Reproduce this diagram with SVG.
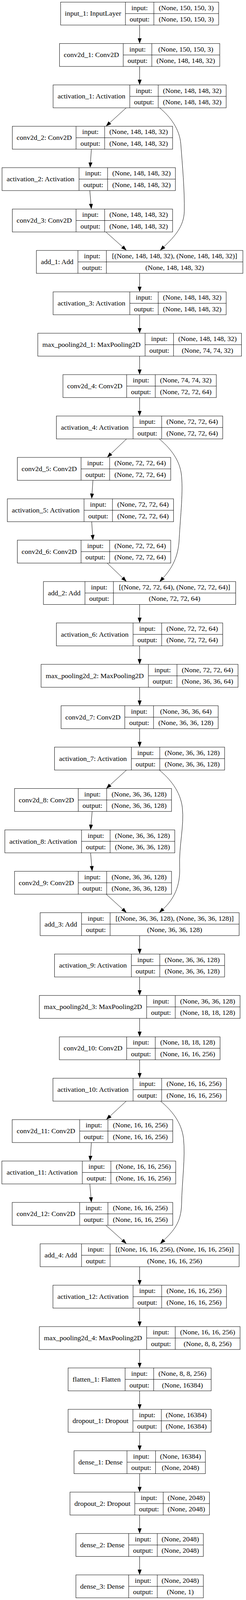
<svg xmlns="http://www.w3.org/2000/svg" width="630" height="4279" viewBox="0 0 630 4279" preserveAspectRatio="none">
<style>
svg:root{height:100vh;max-height:4279px}
.n rect{fill:#fff;stroke:#000;stroke-width:1}
.n path{fill:none;stroke:#000;stroke-width:1}
.n text{font-family:"Liberation Serif","Times New Roman",serif;font-size:18px;text-anchor:middle;fill:#000}
#edges path{fill:none;stroke:#000;stroke-width:1;marker-end:url(#ah)}
</style>
<defs>
<marker id="ah" markerUnits="userSpaceOnUse" markerWidth="14" markerHeight="10" refX="0" refY="5" orient="auto" viewBox="0 0 14 10"><path d="M0,0L14,5L0,10z" fill="#000"/></marker>
</defs>
<rect width="630" height="4279" fill="#fff"/>
<g id="edges">
<path d="M357.6,67V102.4"/>
<path d="M357.6,177.7V213.1"/>
<path d="M357.6,731.1V766.5"/>
<path d="M357.6,841.8V877.2"/>
<path d="M357.6,952.5V987.9"/>
<path d="M357.6,1063.2V1098.6"/>
<path d="M357.6,1616.6V1652"/>
<path d="M357.6,1727.3V1762.7"/>
<path d="M357.6,1838V1873.4"/>
<path d="M357.6,1948.7V1984.1"/>
<path d="M357.6,2502.2V2537.5"/>
<path d="M357.6,2612.8V2648.2"/>
<path d="M357.6,2723.5V2758.9"/>
<path d="M357.6,2834.2V2869.6"/>
<path d="M357.6,3387.7V3423.1"/>
<path d="M357.6,3498.4V3533.8"/>
<path d="M357.6,3609.1V3644.4"/>
<path d="M357.6,3719.7V3755.1"/>
<path d="M357.6,3830.4V3865.8"/>
<path d="M357.6,3941.1V3976.5"/>
<path d="M357.6,4051.8V4087.2"/>
<path d="M357.6,4162.5V4197.9"/>
<path d="M323.2,288.4L281.4,328.1"/>
<path d="M234,399L231.7,434.4"/>
<path d="M230,509.7L232.9,545.2"/>
<path d="M271.2,620.4L313.8,660.2"/>
<path d="M408.8,288.4C436,312 460,345 463,385C467,440 473,510 472,565C471,605 448,632 419.9,659.9"/>
<path d="M324,1173.9L284.3,1213.4"/>
<path d="M238,1284.6L235.7,1319.9"/>
<path d="M234.8,1395.3L237.1,1430.6"/>
<path d="M274.4,1505.9L314.1,1545.4"/>
<path d="M408,1173.9C432,1195 458,1225 464,1265C470,1310 462,1380 459,1440C457,1490 440,1520 417.9,1545.4"/>
<path d="M324,2059.4L282.2,2099.2"/>
<path d="M236,2170.1L233.1,2205.5"/>
<path d="M232,2280.8L234.9,2316.2"/>
<path d="M272,2391.5L313.9,2431.3"/>
<path d="M408,2059.4C434,2082 462,2115 467,2160C472,2210 458,2260 460,2320C462,2370 445,2405 417.9,2431"/>
<path d="M323.2,2944.9L282.1,2984.6"/>
<path d="M234,3055.6L231.7,3091"/>
<path d="M230,3166.3L232.9,3201.8"/>
<path d="M271.2,3277L313.8,3316.8"/>
<path d="M411.2,2944.9C438,2968 465,3000 470,3045C475,3095 466,3160 465,3220C464,3270 444,3292 419.9,3316.5"/>
</g>
<g id="input_1" class="n" transform="translate(0,5.7)"><rect x="155.2" y="0" width="404.8" height="61.3"/><path d="M321.2,0V61.3M394,0V61.3M321.2,30.65H560"/><text x="238.2" y="36.6">input_1: InputLayer</text><text x="357.6" y="21.1">input:</text><text x="357.6" y="51.8">output:</text><text x="477" y="21.1">(None, 150, 150, 3)</text><text x="477" y="51.8">(None, 150, 150, 3)</text></g>
<g id="conv2d_1" class="n" transform="translate(0,116.4)"><rect x="152.4" y="0" width="410.4" height="61.3"/><path d="M315.6,0V61.3M388.8,0V61.3M315.6,30.65H562.8"/><text x="234" y="36.6">conv2d_1: Conv2D</text><text x="352.2" y="21.1">input:</text><text x="352.2" y="51.8">output:</text><text x="475.8" y="21.1">(None, 150, 150, 3)</text><text x="475.8" y="51.8">(None, 148, 148, 32)</text></g>
<g id="activation_1" class="n" transform="translate(0,227.05)"><rect x="136" y="0" width="443.2" height="61.3"/><path d="M332.4,0V61.3M405.2,0V61.3M332.4,30.65H579.2"/><text x="234.2" y="36.6">activation_1: Activation</text><text x="368.8" y="21.1">input:</text><text x="368.8" y="51.8">output:</text><text x="492.2" y="21.1">(None, 148, 148, 32)</text><text x="492.2" y="51.8">(None, 148, 148, 32)</text></g>
<g id="conv2d_2" class="n" transform="translate(0,337.7)"><rect x="31.6" y="0" width="410.4" height="61.3"/><path d="M194.8,0V61.3M268,0V61.3M194.8,30.65H442"/><text x="113.2" y="36.6">conv2d_2: Conv2D</text><text x="231.4" y="21.1">input:</text><text x="231.4" y="51.8">output:</text><text x="355" y="21.1">(None, 148, 148, 32)</text><text x="355" y="51.8">(None, 148, 148, 32)</text></g>
<g id="activation_2" class="n" transform="translate(0,448.4)"><rect x="5.2" y="0" width="444" height="61.3"/><path d="M202.4,0V61.3M275.6,0V61.3M202.4,30.65H449.2"/><text x="103.8" y="36.6">activation_2: Activation</text><text x="239" y="21.1">input:</text><text x="239" y="51.8">output:</text><text x="362.4" y="21.1">(None, 148, 148, 32)</text><text x="362.4" y="51.8">(None, 148, 148, 32)</text></g>
<g id="conv2d_3" class="n" transform="translate(0,559.1)"><rect x="31.6" y="0" width="410.4" height="61.3"/><path d="M194.8,0V61.3M268,0V61.3M194.8,30.65H442"/><text x="113.2" y="36.6">conv2d_3: Conv2D</text><text x="231.4" y="21.1">input:</text><text x="231.4" y="51.8">output:</text><text x="355" y="21.1">(None, 148, 148, 32)</text><text x="355" y="51.8">(None, 148, 148, 32)</text></g>
<g id="add_1" class="n" transform="translate(0,669.8)"><rect x="93.2" y="0" width="528.8" height="61.3"/><path d="M199.6,0V61.3M272.4,0V61.3M199.6,30.65H622"/><text x="146.4" y="36.6">add_1: Add</text><text x="236" y="21.1">input:</text><text x="236" y="51.8">output:</text><text x="447.2" y="21.1">[(None, 148, 148, 32), (None, 148, 148, 32)]</text><text x="447.2" y="51.8">(None, 148, 148, 32)</text></g>
<g id="activation_3" class="n" transform="translate(0,780.5)"><rect x="136" y="0" width="443.2" height="61.3"/><path d="M332.4,0V61.3M405.2,0V61.3M332.4,30.65H579.2"/><text x="234.2" y="36.6">activation_3: Activation</text><text x="368.8" y="21.1">input:</text><text x="368.8" y="51.8">output:</text><text x="492.2" y="21.1">(None, 148, 148, 32)</text><text x="492.2" y="51.8">(None, 148, 148, 32)</text></g>
<g id="max_pooling2d_1" class="n" transform="translate(0,891.2)"><rect x="96.8" y="0" width="521.6" height="61.3"/><path d="M371.6,0V61.3M444.4,0V61.3M371.6,30.65H618.4"/><text x="234.2" y="36.6">max_pooling2d_1: MaxPooling2D</text><text x="408" y="21.1">input:</text><text x="408" y="51.8">output:</text><text x="531.4" y="21.1">(None, 148, 148, 32)</text><text x="531.4" y="51.8">(None, 74, 74, 32)</text></g>
<g id="conv2d_4" class="n" transform="translate(0,1001.9)"><rect x="161.2" y="0" width="392.8" height="61.3"/><path d="M324.4,0V61.3M397.6,0V61.3M324.4,30.65H554"/><text x="242.8" y="36.6">conv2d_4: Conv2D</text><text x="361" y="21.1">input:</text><text x="361" y="51.8">output:</text><text x="475.8" y="21.1">(None, 74, 74, 32)</text><text x="475.8" y="51.8">(None, 72, 72, 64)</text></g>
<g id="activation_4" class="n" transform="translate(0,1112.6)"><rect x="144.4" y="0" width="426" height="61.3"/><path d="M340.8,0V61.3M414,0V61.3M340.8,30.65H570.4"/><text x="242.6" y="36.6">activation_4: Activation</text><text x="377.4" y="21.1">input:</text><text x="377.4" y="51.8">output:</text><text x="492.2" y="21.1">(None, 72, 72, 64)</text><text x="492.2" y="51.8">(None, 72, 72, 64)</text></g>
<g id="conv2d_5" class="n" transform="translate(0,1223.3)"><rect x="44.4" y="0" width="392.8" height="61.3"/><path d="M207.6,0V61.3M280.8,0V61.3M207.6,30.65H437.2"/><text x="126" y="36.6">conv2d_5: Conv2D</text><text x="244.2" y="21.1">input:</text><text x="244.2" y="51.8">output:</text><text x="359" y="21.1">(None, 72, 72, 64)</text><text x="359" y="51.8">(None, 72, 72, 64)</text></g>
<g id="activation_5" class="n" transform="translate(0,1334)"><rect x="18.8" y="0" width="425.6" height="61.3"/><path d="M215.2,0V61.3M288,0V61.3M215.2,30.65H444.4"/><text x="117" y="36.6">activation_5: Activation</text><text x="251.6" y="21.1">input:</text><text x="251.6" y="51.8">output:</text><text x="366.2" y="21.1">(None, 72, 72, 64)</text><text x="366.2" y="51.8">(None, 72, 72, 64)</text></g>
<g id="conv2d_6" class="n" transform="translate(0,1444.6)"><rect x="44.4" y="0" width="392.8" height="61.3"/><path d="M207.6,0V61.3M280.8,0V61.3M207.6,30.65H437.2"/><text x="126" y="36.6">conv2d_6: Conv2D</text><text x="244.2" y="21.1">input:</text><text x="244.2" y="51.8">output:</text><text x="359" y="21.1">(None, 72, 72, 64)</text><text x="359" y="51.8">(None, 72, 72, 64)</text></g>
<g id="add_2" class="n" transform="translate(0,1555.3)"><rect x="111.2" y="0" width="492.4" height="61.3"/><path d="M217.6,0V61.3M290.4,0V61.3M217.6,30.65H603.6"/><text x="164.4" y="36.6">add_2: Add</text><text x="254" y="21.1">input:</text><text x="254" y="51.8">output:</text><text x="447" y="21.1">[(None, 72, 72, 64), (None, 72, 72, 64)]</text><text x="447" y="51.8">(None, 72, 72, 64)</text></g>
<g id="activation_6" class="n" transform="translate(0,1666)"><rect x="144.4" y="0" width="426" height="61.3"/><path d="M340.8,0V61.3M414,0V61.3M340.8,30.65H570.4"/><text x="242.6" y="36.6">activation_6: Activation</text><text x="377.4" y="21.1">input:</text><text x="377.4" y="51.8">output:</text><text x="492.2" y="21.1">(None, 72, 72, 64)</text><text x="492.2" y="51.8">(None, 72, 72, 64)</text></g>
<g id="max_pooling2d_2" class="n" transform="translate(0,1776.7)"><rect x="105.2" y="0" width="504.4" height="61.3"/><path d="M380,0V61.3M453.2,0V61.3M380,30.65H609.6"/><text x="242.6" y="36.6">max_pooling2d_2: MaxPooling2D</text><text x="416.6" y="21.1">input:</text><text x="416.6" y="51.8">output:</text><text x="531.4" y="21.1">(None, 72, 72, 64)</text><text x="531.4" y="51.8">(None, 36, 36, 64)</text></g>
<g id="conv2d_7" class="n" transform="translate(0,1887.4)"><rect x="156.4" y="0" width="402.4" height="61.3"/><path d="M319.6,0V61.3M393.2,0V61.3M319.6,30.65H558.8"/><text x="238" y="36.6">conv2d_7: Conv2D</text><text x="356.4" y="21.1">input:</text><text x="356.4" y="51.8">output:</text><text x="476" y="21.1">(None, 36, 36, 64)</text><text x="476" y="51.8">(None, 36, 36, 128)</text></g>
<g id="activation_7" class="n" transform="translate(0,1998.1)"><rect x="139.6" y="0" width="435.6" height="61.3"/><path d="M336.4,0V61.3M409.2,0V61.3M336.4,30.65H575.2"/><text x="238" y="36.6">activation_7: Activation</text><text x="372.8" y="21.1">input:</text><text x="372.8" y="51.8">output:</text><text x="492.2" y="21.1">(None, 36, 36, 128)</text><text x="492.2" y="51.8">(None, 36, 36, 128)</text></g>
<g id="conv2d_8" class="n" transform="translate(0,2108.8)"><rect x="37.2" y="0" width="402" height="61.3"/><path d="M200.4,0V61.3M273.2,0V61.3M200.4,30.65H439.2"/><text x="118.8" y="36.6">conv2d_8: Conv2D</text><text x="236.8" y="21.1">input:</text><text x="236.8" y="51.8">output:</text><text x="356.2" y="21.1">(None, 36, 36, 128)</text><text x="356.2" y="51.8">(None, 36, 36, 128)</text></g>
<g id="activation_8" class="n" transform="translate(0,2219.5)"><rect x="12.4" y="0" width="435.2" height="61.3"/><path d="M208.8,0V61.3M282,0V61.3M208.8,30.65H447.6"/><text x="110.6" y="36.6">activation_8: Activation</text><text x="245.4" y="21.1">input:</text><text x="245.4" y="51.8">output:</text><text x="364.8" y="21.1">(None, 36, 36, 128)</text><text x="364.8" y="51.8">(None, 36, 36, 128)</text></g>
<g id="conv2d_9" class="n" transform="translate(0,2330.2)"><rect x="37.2" y="0" width="402" height="61.3"/><path d="M200.4,0V61.3M273.2,0V61.3M200.4,30.65H439.2"/><text x="118.8" y="36.6">conv2d_9: Conv2D</text><text x="236.8" y="21.1">input:</text><text x="236.8" y="51.8">output:</text><text x="356.2" y="21.1">(None, 36, 36, 128)</text><text x="356.2" y="51.8">(None, 36, 36, 128)</text></g>
<g id="add_3" class="n" transform="translate(0,2440.9)"><rect x="102.8" y="0" width="509.6" height="61.3"/><path d="M208.8,0V61.3M282,0V61.3M208.8,30.65H612.4"/><text x="155.8" y="36.6">add_3: Add</text><text x="245.4" y="21.1">input:</text><text x="245.4" y="51.8">output:</text><text x="447.2" y="21.1">[(None, 36, 36, 128), (None, 36, 36, 128)]</text><text x="447.2" y="51.8">(None, 36, 36, 128)</text></g>
<g id="activation_9" class="n" transform="translate(0,2551.5)"><rect x="139.6" y="0" width="435.6" height="61.3"/><path d="M336.4,0V61.3M409.2,0V61.3M336.4,30.65H575.2"/><text x="238" y="36.6">activation_9: Activation</text><text x="372.8" y="21.1">input:</text><text x="372.8" y="51.8">output:</text><text x="492.2" y="21.1">(None, 36, 36, 128)</text><text x="492.2" y="51.8">(None, 36, 36, 128)</text></g>
<g id="max_pooling2d_3" class="n" transform="translate(0,2662.2)"><rect x="100.8" y="0" width="514" height="61.3"/><path d="M375.6,0V61.3M448.8,0V61.3M375.6,30.65H614.8"/><text x="238.2" y="36.6">max_pooling2d_3: MaxPooling2D</text><text x="412.2" y="21.1">input:</text><text x="412.2" y="51.8">output:</text><text x="531.8" y="21.1">(None, 36, 36, 128)</text><text x="531.8" y="51.8">(None, 18, 18, 128)</text></g>
<g id="conv2d_10" class="n" transform="translate(0,2772.9)"><rect x="152" y="0" width="411.6" height="61.3"/><path d="M324.4,0V61.3M397.6,0V61.3M324.4,30.65H563.6"/><text x="238.2" y="36.6">conv2d_10: Conv2D</text><text x="361" y="21.1">input:</text><text x="361" y="51.8">output:</text><text x="480.6" y="21.1">(None, 18, 18, 128)</text><text x="480.6" y="51.8">(None, 16, 16, 256)</text></g>
<g id="activation_10" class="n" transform="translate(0,2883.6)"><rect x="135.6" y="0" width="444.4" height="61.3"/><path d="M340.8,0V61.3M414,0V61.3M340.8,30.65H580"/><text x="238.2" y="36.6">activation_10: Activation</text><text x="377.4" y="21.1">input:</text><text x="377.4" y="51.8">output:</text><text x="497" y="21.1">(None, 16, 16, 256)</text><text x="497" y="51.8">(None, 16, 16, 256)</text></g>
<g id="conv2d_11" class="n" transform="translate(0,2994.3)"><rect x="31.2" y="0" width="411.2" height="61.3"/><path d="M204,0V61.3M276.4,0V61.3M204,30.65H442.4"/><text x="117.6" y="36.6">conv2d_11: Conv2D</text><text x="240.2" y="21.1">input:</text><text x="240.2" y="51.8">output:</text><text x="359.4" y="21.1">(None, 16, 16, 256)</text><text x="359.4" y="51.8">(None, 16, 16, 256)</text></g>
<g id="activation_11" class="n" transform="translate(0,3105)"><rect x="4.8" y="0" width="445.2" height="61.3"/><path d="M210.8,0V61.3M284,0V61.3M210.8,30.65H450"/><text x="107.8" y="36.6">activation_11: Activation</text><text x="247.4" y="21.1">input:</text><text x="247.4" y="51.8">output:</text><text x="367" y="21.1">(None, 16, 16, 256)</text><text x="367" y="51.8">(None, 16, 16, 256)</text></g>
<g id="conv2d_12" class="n" transform="translate(0,3215.7)"><rect x="31.2" y="0" width="411.2" height="61.3"/><path d="M204,0V61.3M276.4,0V61.3M204,30.65H442.4"/><text x="117.6" y="36.6">conv2d_12: Conv2D</text><text x="240.2" y="21.1">input:</text><text x="240.2" y="51.8">output:</text><text x="359.4" y="21.1">(None, 16, 16, 256)</text><text x="359.4" y="51.8">(None, 16, 16, 256)</text></g>
<g id="add_4" class="n" transform="translate(0,3326.4)"><rect x="102.8" y="0" width="509.6" height="61.3"/><path d="M208.8,0V61.3M282,0V61.3M208.8,30.65H612.4"/><text x="155.8" y="36.6">add_4: Add</text><text x="245.4" y="21.1">input:</text><text x="245.4" y="51.8">output:</text><text x="447.2" y="21.1">[(None, 16, 16, 256), (None, 16, 16, 256)]</text><text x="447.2" y="51.8">(None, 16, 16, 256)</text></g>
<g id="activation_12" class="n" transform="translate(0,3437.1)"><rect x="135.6" y="0" width="444.4" height="61.3"/><path d="M340.8,0V61.3M414,0V61.3M340.8,30.65H580"/><text x="238.2" y="36.6">activation_12: Activation</text><text x="377.4" y="21.1">input:</text><text x="377.4" y="51.8">output:</text><text x="497" y="21.1">(None, 16, 16, 256)</text><text x="497" y="51.8">(None, 16, 16, 256)</text></g>
<g id="max_pooling2d_4" class="n" transform="translate(0,3547.8)"><rect x="100.8" y="0" width="514" height="61.3"/><path d="M375.6,0V61.3M448.8,0V61.3M375.6,30.65H614.8"/><text x="238.2" y="36.6">max_pooling2d_4: MaxPooling2D</text><text x="412.2" y="21.1">input:</text><text x="412.2" y="51.8">output:</text><text x="531.8" y="21.1">(None, 16, 16, 256)</text><text x="531.8" y="51.8">(None, 8, 8, 256)</text></g>
<g id="flatten_1" class="n" transform="translate(0,3658.4)"><rect x="174.4" y="0" width="366.4" height="61.3"/><path d="M320.4,0V61.3M393.6,0V61.3M320.4,30.65H540.8"/><text x="247.4" y="36.6">flatten_1: Flatten</text><text x="357" y="21.1">input:</text><text x="357" y="51.8">output:</text><text x="467.2" y="21.1">(None, 8, 8, 256)</text><text x="467.2" y="51.8">(None, 16384)</text></g>
<g id="dropout_1" class="n" transform="translate(0,3769.1)"><rect x="174.4" y="0" width="366.4" height="61.3"/><path d="M340.4,0V61.3M413.2,0V61.3M340.4,30.65H540.8"/><text x="257.4" y="36.6">dropout_1: Dropout</text><text x="376.8" y="21.1">input:</text><text x="376.8" y="51.8">output:</text><text x="477" y="21.1">(None, 16384)</text><text x="477" y="51.8">(None, 16384)</text></g>
<g id="dense_1" class="n" transform="translate(0,3879.8)"><rect x="189.6" y="0" width="336.4" height="61.3"/><path d="M325.2,0V61.3M398.4,0V61.3M325.2,30.65H526"/><text x="257.4" y="36.6">dense_1: Dense</text><text x="361.8" y="21.1">input:</text><text x="361.8" y="51.8">output:</text><text x="462.2" y="21.1">(None, 16384)</text><text x="462.2" y="51.8">(None, 2048)</text></g>
<g id="dropout_2" class="n" transform="translate(0,3990.5)"><rect x="179.2" y="0" width="357.2" height="61.3"/><path d="M345.2,0V61.3M418,0V61.3M345.2,30.65H536.4"/><text x="262.2" y="36.6">dropout_2: Dropout</text><text x="381.6" y="21.1">input:</text><text x="381.6" y="51.8">output:</text><text x="477.2" y="21.1">(None, 2048)</text><text x="477.2" y="51.8">(None, 2048)</text></g>
<g id="dense_2" class="n" transform="translate(0,4101.2)"><rect x="194.4" y="0" width="326.4" height="61.3"/><path d="M329.6,0V61.3M402.8,0V61.3M329.6,30.65H520.8"/><text x="262" y="36.6">dense_2: Dense</text><text x="366.2" y="21.1">input:</text><text x="366.2" y="51.8">output:</text><text x="461.8" y="21.1">(None, 2048)</text><text x="461.8" y="51.8">(None, 2048)</text></g>
<g id="dense_3" class="n" transform="translate(0,4211.9)"><rect x="194.4" y="0" width="326.4" height="61.3"/><path d="M329.6,0V61.3M402.8,0V61.3M329.6,30.65H520.8"/><text x="262" y="36.6">dense_3: Dense</text><text x="366.2" y="21.1">input:</text><text x="366.2" y="51.8">output:</text><text x="461.8" y="21.1">(None, 2048)</text><text x="461.8" y="51.8">(None, 1)</text></g>
</svg>
